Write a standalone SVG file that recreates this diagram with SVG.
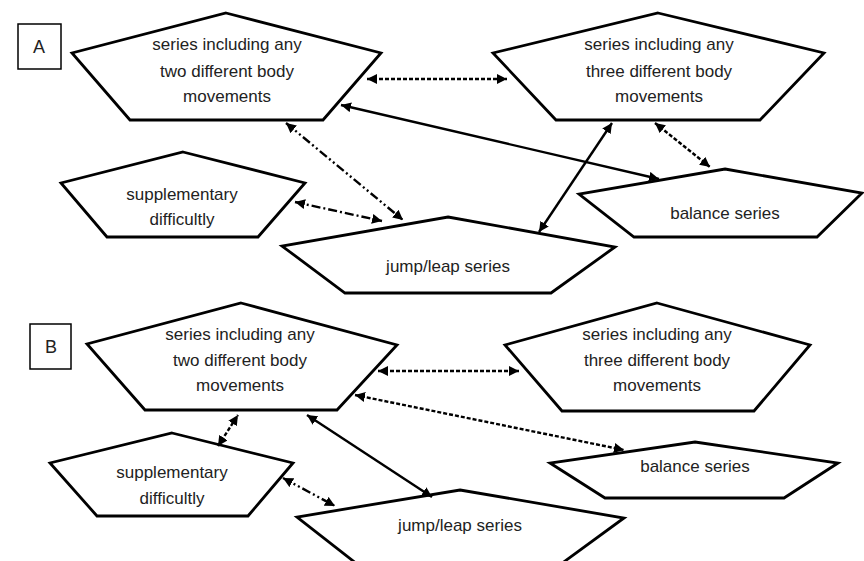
<svg xmlns="http://www.w3.org/2000/svg" width="864" height="561" viewBox="0 0 864 561">
<style>
.shape{fill:#fff;stroke:#000;stroke-width:2.8;stroke-linejoin:miter}
.box{fill:#fff;stroke:#000;stroke-width:1.5}
.t{font-family:"Liberation Sans",Arial,sans-serif;font-size:17px;fill:#222;text-anchor:middle}
.lbl{font-family:"Liberation Sans",Arial,sans-serif;font-size:18px;fill:#222;text-anchor:middle}
.c{fill:none;stroke:#000;stroke-width:2.4;marker-start:url(#ah);marker-end:url(#ah)}
.dot{stroke-dasharray:4 2}
.dd{stroke-dasharray:9 3 2 3 2 3}
.dash1{stroke-dasharray:9 3 2 3}
</style>
<defs>
<marker id="ah" markerUnits="userSpaceOnUse" markerWidth="11" markerHeight="10" refX="10" refY="5" orient="auto-start-reverse">
<path d="M0,0 L10,5 L0,10 z" fill="#000"/>
</marker>
</defs>
<rect width="864" height="561" fill="#fff"/>

<g id="labelA"><rect class="box" x="18" y="24" width="43" height="45"/><text class="lbl" x="39" y="53">A</text></g>
<g id="labelB"><rect class="box" x="30" y="324" width="41" height="45"/><text class="lbl" x="51" y="353">B</text></g>

<g id="a-two">
<polygon class="shape" points="226,13 381,53 323,120 130,120 72,53"/>
<text class="t" x="227" y="50">series including any</text>
<text class="t" x="227" y="77">two different body</text>
<text class="t" x="227" y="102">movements</text>
</g>
<g id="a-three">
<polygon class="shape" points="658,13 824,53 760,120 556,120 493,53"/>
<text class="t" x="659" y="50">series including any</text>
<text class="t" x="659" y="77">three different body</text>
<text class="t" x="659" y="102">movements</text>
</g>
<g id="a-supp">
<polygon class="shape" points="183,152 305,183 258,237 107,237 61,183"/>
<text class="t" x="182" y="200">supplementary</text>
<text class="t" x="182" y="225">difficultly</text>
</g>
<g id="a-jump">
<polygon class="shape" points="448,217 615,247 551,293 345,293 282,246"/>
<text class="t" x="448" y="272">jump/leap series</text>
</g>
<g id="a-balance">
<polygon class="shape" points="725,169 862,193 817,237 634,237 579,194"/>
<text class="t" x="725" y="219">balance series</text>
</g>

<g id="b-two">
<polygon class="shape" points="241,303 397,345 337,410 145,410 87,344"/>
<text class="t" x="240" y="340">series including any</text>
<text class="t" x="240" y="366">two different body</text>
<text class="t" x="240" y="391">movements</text>
</g>
<g id="b-three">
<polygon class="shape" points="657,303 810,345 754,411 562,411 505,345"/>
<text class="t" x="657" y="340">series including any</text>
<text class="t" x="657" y="366">three different body</text>
<text class="t" x="657" y="391">movements</text>
</g>
<g id="b-supp">
<polygon class="shape" points="172,433 293,463 248,516 97,516 50,463"/>
<text class="t" x="172" y="478">supplementary</text>
<text class="t" x="172" y="504">difficultly</text>
</g>
<g id="b-jump">
<polygon class="shape" points="460,490 624,518 561,564 357,564 297,517"/>
<text class="t" x="460" y="531">jump/leap series</text>
</g>
<g id="b-balance">
<polygon class="shape" points="695,442 838,463 784,498 605,498 550,463"/>
<text class="t" x="695" y="472">balance series</text>
</g>

<g id="connectors">
<line class="c dot" x1="367" y1="79" x2="507" y2="79"/>
<line class="c" x1="341" y1="105" x2="659" y2="179"/>
<line class="c dd" x1="286" y1="123" x2="403" y2="220"/>
<line class="c dash1" x1="295" y1="202" x2="382" y2="221"/>
<line class="c" x1="539" y1="232" x2="612" y2="123"/>
<line class="c dot" x1="655" y1="123" x2="710" y2="167"/>

<line class="c dot" x1="378" y1="371" x2="519" y2="371"/>
<line class="c dot" x1="355" y1="395" x2="624" y2="450"/>
<line class="c dot" x1="218" y1="446" x2="238" y2="415"/>
<line class="c" x1="307" y1="415" x2="432" y2="497"/>
<line class="c dd" x1="283" y1="478" x2="335" y2="506"/>
</g>
</svg>
